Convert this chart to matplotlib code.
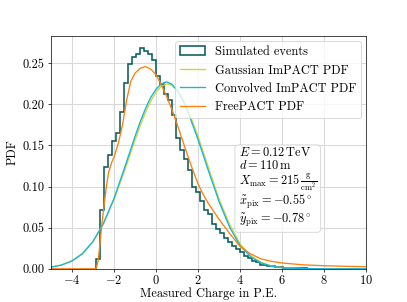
import numpy as np
import matplotlib
matplotlib.use("Agg")
import matplotlib.pyplot as plt

# --- data ---
bin_start = -2.87
bin_width = 0.19
sim_pdf = [0.012, 0.071, 0.124, 0.138, 0.156, 0.165, 0.191, 0.226, 0.249, 0.258,
           0.261, 0.269, 0.265, 0.261, 0.254, 0.235, 0.225, 0.213, 0.205, 0.187,
           0.159, 0.145, 0.133, 0.120, 0.100, 0.093, 0.083, 0.072, 0.067, 0.055,
           0.048, 0.044, 0.037, 0.032, 0.028, 0.024, 0.020, 0.016, 0.013, 0.010,
           0.008, 0.005, 0.004, 0.003, 0.003, 0.002, 0.002, 0.001, 0.001, 0.001,
           0.001, 0.0005, 0.0005]

x_impact = [-5, -4.5, -4, -3.5, -3, -2.5, -2, -1.5, -1, -0.75, -0.5, -0.25, 0, 0.25,
            0.5, 0.75, 1, 1.25, 1.5, 2, 2.5, 3, 3.5, 4, 4.5, 5, 5.5, 6, 7, 8, 10]
gauss_pdf = [0.0021, 0.0047, 0.0098, 0.0187, 0.0333, 0.0550, 0.0840, 0.1191, 0.1563,
             0.1742, 0.1904, 0.2042, 0.2149, 0.2220, 0.2249, 0.2236, 0.2178, 0.2081,
             0.1949, 0.1609, 0.1227, 0.0845, 0.0540, 0.0300, 0.0160, 0.0078, 0.0035,
             0.0015, 0.0002, 0.0, 0.0]
conv_pdf = [0.0019, 0.0044, 0.0094, 0.0182, 0.0330, 0.0552, 0.0855, 0.1225, 0.1610,
            0.1790, 0.1950, 0.2085, 0.2185, 0.2250, 0.2275, 0.2245, 0.2170, 0.2060,
            0.1920, 0.1570, 0.1185, 0.0815, 0.0505, 0.0280, 0.0145, 0.0070, 0.0030,
            0.0012, 0.0002, 0.0, 0.0]

x_free = [-5, -2.85, -2.75, -2.65, -2.55, -2.45, -2.35, -2.25, -2.1, -2.0, -1.8, -1.6,
          -1.4, -1.2, -1.0, -0.75, -0.5, -0.25, 0.0, 0.25, 0.5, 0.75, 1.0, 1.25, 1.5,
          1.75, 2.0, 2.25, 2.5, 3.0, 3.5, 4.0, 4.5, 5.0, 5.5, 6.0, 7.0, 8.0, 9.0, 10.0]
free_pdf = [0.0, 0.0, 0.010, 0.035, 0.060, 0.082, 0.102, 0.118, 0.130, 0.136, 0.152,
            0.174, 0.205, 0.228, 0.238, 0.244, 0.246, 0.243, 0.236, 0.224, 0.210,
            0.194, 0.176, 0.157, 0.138, 0.120, 0.103, 0.090, 0.079, 0.060, 0.043,
            0.027, 0.018, 0.012, 0.009, 0.007, 0.0048, 0.0037, 0.003, 0.0025]

info_lines = [
    r"$E = 0.12\,\mathrm{TeV}$",
    r"$d = 110\,\mathrm{m}$",
    r"$X_\mathrm{max} = $215$\,\frac{\mathrm{g}}{\mathrm{cm}^2}$",
    r"$\tilde{x}_\mathrm{pix} = -0.55^\circ$",
    r"$\tilde{y}_\mathrm{pix} = -0.78^\circ$",
]

plt.rcParams["font.family"] = "serif"
plt.rcParams["font.serif"] = ["cmr10"]
plt.rcParams["mathtext.fontset"] = "cm"
plt.rcParams["axes.formatter.use_mathtext"] = True
plt.rcParams["font.size"] = 14

fig, ax = plt.subplots(figsize=(6.4, 4.75), dpi=63.6)

edges = bin_start + bin_width * np.arange(len(sim_pdf) + 1)
ax.hist(edges[:-1], bins=edges, weights=sim_pdf, histtype="step",
        color="#085c5c", linewidth=1.8, label="Simulated events")
ax.plot(x_impact, gauss_pdf, color="#d2d62a", lw=1.5, label="Gaussian ImPACT PDF")
ax.plot(x_impact, conv_pdf, color="#12b5ea", lw=1.5, label="Convolved ImPACT PDF")
ax.plot(x_free, free_pdf, color="#ff7f0e", lw=1.5, label="FreePACT PDF")

ax.set_xlim(-5, 10)
ax.set_ylim(0, 0.283)
ax.set_xticks(np.arange(-4, 11, 2))
ax.set_yticks(np.arange(0, 0.26, 0.05))
ax.yaxis.set_major_formatter(matplotlib.ticker.FormatStrFormatter("%.2f"))
ax.tick_params(axis="x", pad=2.5)
ax.grid(True, color="0.85", linewidth=1.2)
ax.set_axisbelow(True)
ax.set_xlabel("Measured Charge in P.E.", labelpad=0.5)
ax.set_ylabel("PDF")
ax.legend(loc="upper right", handlelength=2.0, borderaxespad=0.4)

ax.text(0.595, 0.53, "\n".join(info_lines), transform=ax.transAxes,
        va="top", ha="left", linespacing=1.0,
        bbox=dict(boxstyle="round", facecolor="white", edgecolor="0.8", alpha=0.8))

fig.savefig("out.png", dpi=63.6)
